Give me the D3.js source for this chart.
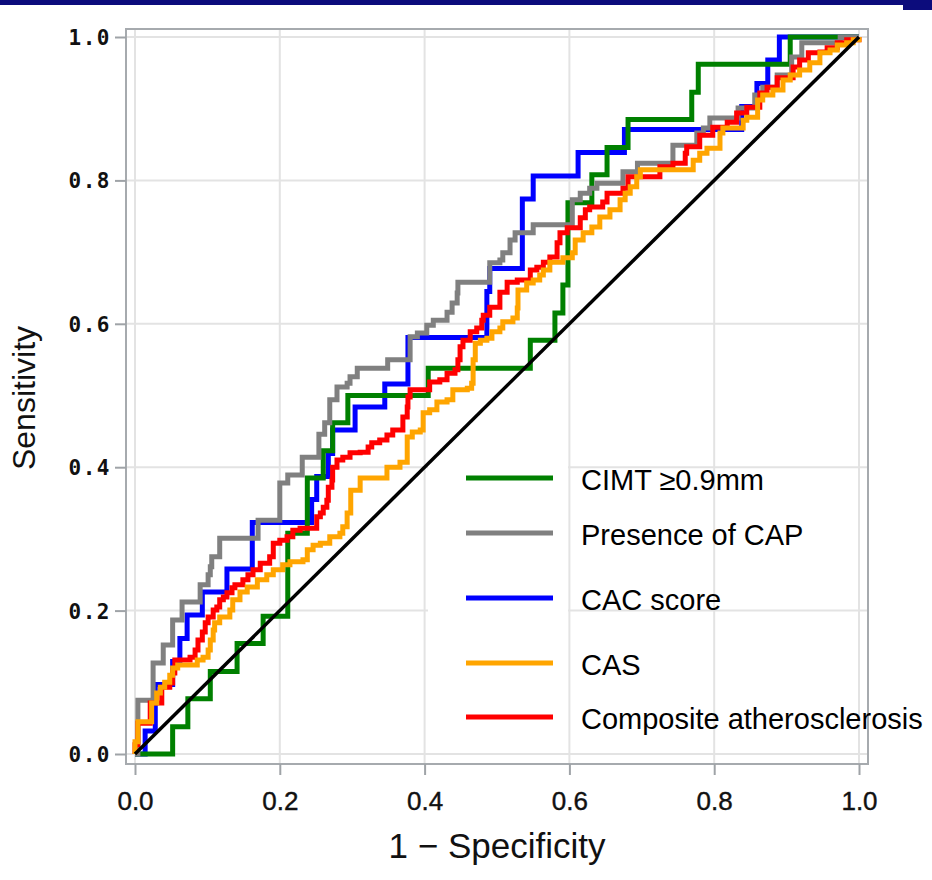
<meta charset="utf-8">
<script src="https://d3js.org/d3.v7.js"></script>
<style>
body { margin: 0; background-color: white; }
svg { background-color: white; font-family: 'Liberation Sans', Arial, sans-serif; }
.grid line { stroke: #e3e3e3; stroke-width: 2px; }
.axis path { display: none; }
.axis line { stroke: #9fa3a7; stroke-width: 2px; }
.ylab text { font-family: 'DejaVu Sans Mono', monospace; font-weight: bold; font-size: 21px; letter-spacing: 1.5px; fill: #111; }
.xlab text { font-size: 26px; fill: #111; stroke: #111; stroke-width: 0.4px; }
.roc { fill: none; stroke-width: 5px; stroke-linejoin: miter; stroke-linecap: butt; }
</style>
<html>
<body>
<div id="roc_chart"></div>
<script>
// ROC operating points [1 - specificity, sensitivity]
var cimtRoc = [[0,0],[0.052,0.038],[0.073,0.077],[0.104,0.115],[0.141,0.154],[0.177,0.192],[0.211,0.308],[0.238,0.385],[0.260,0.423],[0.273,0.462],[0.294,0.500],[0.405,0.538],[0.546,0.577],[0.580,0.615],[0.591,0.654],[0.598,0.769],[0.631,0.808],[0.652,0.846],[0.681,0.885],[0.769,0.923],[0.778,0.962],[0.905,1],[1,1]];

var capRoc = [[0,0],[0.004,0.075],[0.025,0.127],[0.039,0.152],[0.052,0.187],[0.065,0.212],[0.090,0.236],[0.101,0.250],[0.104,0.261],[0.106,0.275],[0.117,0.301],[0.170,0.326],[0.200,0.378],[0.211,0.389],[0.231,0.414],[0.254,0.446],[0.262,0.462],[0.269,0.494],[0.279,0.512],[0.293,0.517],[0.297,0.526],[0.307,0.538],[0.349,0.550],[0.380,0.582],[0.390,0.587],[0.403,0.598],[0.412,0.605],[0.431,0.616],[0.438,0.629],[0.445,0.643],[0.446,0.658],[0.490,0.685],[0.504,0.689],[0.508,0.699],[0.518,0.717],[0.525,0.727],[0.550,0.738],[0.604,0.773],[0.615,0.782],[0.628,0.789],[0.638,0.796],[0.674,0.812],[0.694,0.824],[0.743,0.849],[0.776,0.866],[0.785,0.873],[0.794,0.887],[0.833,0.901],[0.856,0.919],[0.867,0.930],[0.887,0.947],[0.907,0.972],[0.921,0.992],[0.974,1],[1,1]];

var cacRoc = [[0,0],[0.014,0.032],[0.028,0.097],[0.052,0.129],[0.062,0.161],[0.072,0.194],[0.093,0.226],[0.127,0.258],[0.162,0.323],[0.244,0.355],[0.251,0.387],[0.267,0.419],[0.273,0.452],[0.304,0.484],[0.345,0.516],[0.377,0.581],[0.486,0.645],[0.490,0.677],[0.535,0.774],[0.550,0.806],[0.612,0.839],[0.676,0.871],[0.838,0.903],[0.859,0.935],[0.874,0.968],[0.890,1],[1,1]];

var casRoc = [[0,0],[0,0.017],[0.004,0.045],[0.023,0.071],[0.030,0.085],[0.035,0.093],[0.041,0.100],[0.048,0.110],[0.052,0.120],[0.059,0.124],[0.086,0.131],[0.094,0.135],[0.101,0.145],[0.104,0.159],[0.108,0.173],[0.110,0.183],[0.117,0.191],[0.131,0.201],[0.135,0.215],[0.145,0.226],[0.155,0.233],[0.169,0.243],[0.182,0.250],[0.191,0.257],[0.204,0.264],[0.214,0.268],[0.232,0.271],[0.238,0.285],[0.246,0.291],[0.256,0.294],[0.269,0.303],[0.283,0.308],[0.287,0.317],[0.293,0.336],[0.298,0.368],[0.311,0.385],[0.348,0.400],[0.366,0.407],[0.376,0.442],[0.383,0.449],[0.394,0.452],[0.398,0.476],[0.407,0.480],[0.417,0.491],[0.431,0.494],[0.439,0.508],[0.459,0.510],[0.465,0.517],[0.467,0.550],[0.470,0.573],[0.477,0.577],[0.486,0.580],[0.493,0.589],[0.504,0.594],[0.508,0.603],[0.522,0.608],[0.528,0.622],[0.529,0.647],[0.541,0.657],[0.550,0.661],[0.559,0.668],[0.564,0.675],[0.573,0.686],[0.591,0.692],[0.604,0.699],[0.608,0.717],[0.619,0.727],[0.631,0.735],[0.642,0.749],[0.656,0.759],[0.670,0.773],[0.677,0.782],[0.684,0.791],[0.693,0.805],[0.698,0.815],[0.771,0.828],[0.780,0.838],[0.790,0.845],[0.808,0.866],[0.812,0.873],[0.840,0.884],[0.845,0.888],[0.860,0.912],[0.867,0.919],[0.881,0.926],[0.895,0.940],[0.905,0.947],[0.918,0.954],[0.932,0.964],[0.946,0.978],[0.960,0.982],[0.970,0.989],[0.983,0.992],[0.992,0.996],[1,1]];

var compositeRoc = [[0,0],[0,0.013],[0.004,0.043],[0.021,0.071],[0.037,0.093],[0.048,0.099],[0.052,0.113],[0.055,0.131],[0.076,0.135],[0.083,0.145],[0.087,0.159],[0.093,0.170],[0.097,0.183],[0.101,0.191],[0.108,0.201],[0.113,0.205],[0.117,0.215],[0.122,0.219],[0.127,0.225],[0.134,0.232],[0.138,0.236],[0.149,0.243],[0.156,0.250],[0.163,0.257],[0.173,0.266],[0.186,0.275],[0.191,0.294],[0.200,0.298],[0.210,0.303],[0.218,0.312],[0.228,0.315],[0.251,0.331],[0.256,0.336],[0.260,0.344],[0.265,0.354],[0.267,0.372],[0.272,0.382],[0.273,0.400],[0.279,0.410],[0.287,0.414],[0.297,0.420],[0.311,0.421],[0.322,0.428],[0.327,0.434],[0.338,0.438],[0.348,0.445],[0.356,0.452],[0.370,0.470],[0.376,0.484],[0.377,0.498],[0.380,0.508],[0.407,0.519],[0.421,0.522],[0.431,0.531],[0.442,0.536],[0.446,0.550],[0.449,0.568],[0.453,0.577],[0.463,0.589],[0.472,0.594],[0.479,0.605],[0.481,0.612],[0.490,0.623],[0.504,0.644],[0.514,0.658],[0.528,0.661],[0.546,0.675],[0.555,0.679],[0.564,0.686],[0.573,0.693],[0.583,0.713],[0.587,0.727],[0.597,0.734],[0.615,0.748],[0.622,0.759],[0.628,0.763],[0.646,0.770],[0.652,0.782],[0.674,0.789],[0.681,0.805],[0.725,0.819],[0.743,0.824],[0.760,0.838],[0.762,0.847],[0.780,0.863],[0.798,0.874],[0.818,0.881],[0.831,0.894],[0.845,0.902],[0.863,0.922],[0.873,0.930],[0.887,0.943],[0.909,0.958],[0.918,0.968],[0.930,0.978],[0.946,0.979],[0.956,0.985],[0.970,0.992],[0.983,0.996],[1,1]];

var referenceLine = [[0,0],[1,1]];

var seriesNames = ["CIMT \u22650.9mm", "Presence of CAP", "CAC score", "CAS", "Composite atherosclerosis"];
var seriesColors = ["#008000", "#808080", "#0000ff", "#ffa500", "#ff0000"];
var seriesData = [cimtRoc, capRoc, cacRoc, casRoc, compositeRoc];
var drawOrder = [2, 0, 1, 4, 3]; // which curve sits on top in the figure

var xTicks = [0, 0.2, 0.4, 0.6, 0.8, 1.0];
var yTicks = [0, 0.2, 0.4, 0.6, 0.8, 1.0];

var W = 932, H = 880;
var frame = {left: 126, right: 868, top: 29, bottom: 764};

var svg = d3.select("#roc_chart")
    .append("svg")
    .attr("width", W)
    .attr("height", H);

// navy strip along the top of the slide
svg.append("rect").attr("x", 0).attr("y", 0).attr("width", W).attr("height", 5).attr("fill", "#0c0c7c");
svg.append("rect").attr("x", 903).attr("y", 0).attr("width", W - 903).attr("height", 10).attr("fill", "#0c0c7c");

var x = d3.scaleLinear().domain([0, 1]).range([135, 859]);
var y = d3.scaleLinear().domain([0, 1]).range([754, 37]);

// grid
var grid = svg.append("g").attr("class", "grid");
grid.selectAll(".vg").data(xTicks).enter().append("line")
    .attr("x1", d => x(d)).attr("x2", d => x(d))
    .attr("y1", frame.top).attr("y2", frame.bottom);
grid.selectAll(".hg").data(yTicks).enter().append("line")
    .attr("y1", d => y(d)).attr("y2", d => y(d))
    .attr("x1", frame.left).attr("x2", frame.right);

// white patch of the pasted legend
svg.append("rect")
    .attr("x", 428).attr("y", 466).attr("width", 140).attr("height", 287)
    .attr("fill", "white");

// frame
svg.append("rect")
    .attr("x", frame.left).attr("y", frame.top)
    .attr("width", frame.right - frame.left).attr("height", frame.bottom - frame.top)
    .attr("fill", "none").attr("stroke", "#a6aaae").attr("stroke-width", 2);

// axes
var yAxis = svg.append("g")
    .attr("class", "axis ylab")
    .attr("transform", "translate(" + frame.left + ",0)")
    .call(d3.axisLeft(y).tickValues(yTicks).tickFormat(d3.format(".1f")).tickSize(11).tickPadding(4));
yAxis.selectAll("text").attr("dy", "0.36em");

var xAxis = svg.append("g")
    .attr("class", "axis xlab")
    .attr("transform", "translate(0," + frame.bottom + ")")
    .call(d3.axisBottom(x).tickValues(xTicks).tickFormat(d3.format(".1f")).tickSize(11));
xAxis.selectAll("text").attr("y", 46).attr("dy", 0);

// axis titles
svg.append("text")
    .attr("x", 497).attr("y", 858)
    .attr("text-anchor", "middle")
    .style("font-size", "35px").style("fill", "#111")
    .text("1 \u2212 Specificity");

svg.append("text")
    .attr("transform", "translate(35,398) rotate(-90)")
    .attr("text-anchor", "middle")
    .style("font-size", "32px").style("fill", "#111")
    .text("Sensitivity");

// ROC curves
var rocLine = d3.line()
    .x(d => x(d[0]))
    .y(d => y(d[1]))
    .curve(d3.curveStepAfter);

drawOrder.forEach(function(i) {
    svg.append("path")
        .datum(seriesData[i])
        .attr("class", "roc")
        .attr("stroke", seriesColors[i])
        .attr("d", rocLine);
});

// chance line
svg.append("path")
    .datum(referenceLine)
    .attr("fill", "none")
    .attr("stroke", "black")
    .attr("stroke-width", 3.5)
    .attr("d", d3.line().x(d => x(d[0])).y(d => y(d[1])));

// legend
var legendY = [478, 533, 598, 663, 717];
var legend = svg.append("g");
seriesNames.forEach(function(name, i) {
    legend.append("line")
        .attr("x1", 466).attr("x2", 553)
        .attr("y1", legendY[i]).attr("y2", legendY[i])
        .attr("stroke", seriesColors[i]).attr("stroke-width", 5);
    legend.append("text")
        .attr("x", 581).attr("y", legendY[i] + 2)
        .attr("dy", "0.35em")
        .style("font-size", "29px").style("fill", "#000")
        .text(name);
});
</script>
</body>
</html>
